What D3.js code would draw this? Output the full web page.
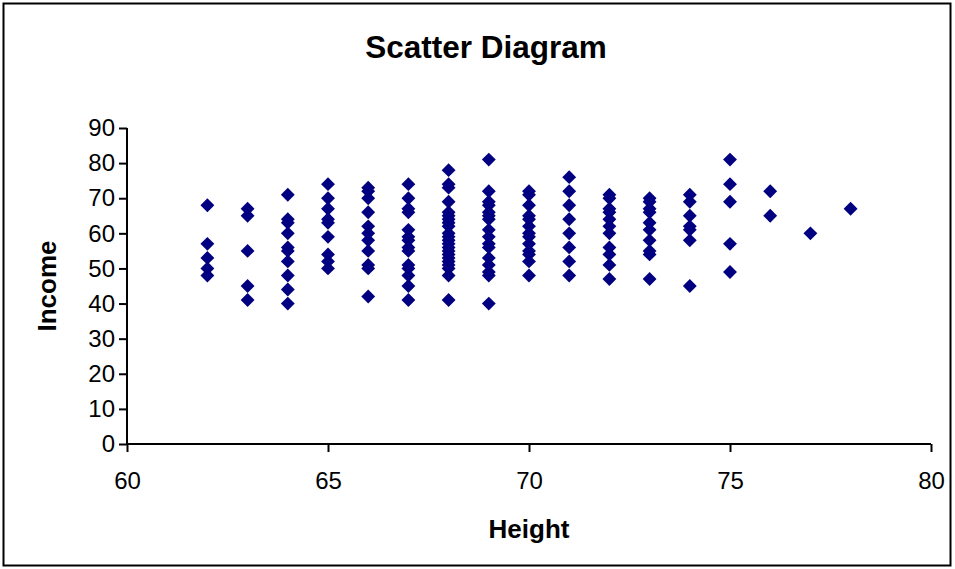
<!DOCTYPE html>
<html>
<head>
<meta charset="utf-8">
<script src="https://cdn.jsdelivr.net/npm/d3@7"></script>
<style>
    body { margin: 0; background: #fff; }
    text { font-family: "Liberation Sans", Arial, sans-serif; fill: #000; }
</style>
</head>
<body>
<svg width="955" height="569"></svg>
<script>
// heights and the incomes
var heights = [62, 63, 64, 65, 66, 67, 68, 69, 70, 71, 72, 73, 74, 75, 76, 77, 78];
var incomes = [
    [68, 57, 53, 50, 48],
    [67, 65, 55, 45, 41],
    [71, 64, 63, 60, 56, 55, 52, 48, 44, 40],
    [74, 70, 67, 64, 63, 59, 54, 52, 50],
    [73, 72, 70, 66, 62, 60, 58, 55, 51, 50, 42],
    [74, 70, 67, 66, 61, 59, 58, 56, 55, 51, 50, 48, 45, 41],
    [78, 74, 73, 69, 66, 65, 64, 63, 62, 60, 59, 58, 57, 56, 55, 54, 53, 52, 51, 50, 48, 41],
    [81, 72, 69, 68, 66, 65, 64, 61, 59, 57, 56, 53, 51, 49, 48, 40],
    [72, 71, 68, 65, 64, 62, 60, 59, 57, 55, 54, 52, 48],
    [76, 72, 68, 64, 60, 56, 52, 48],
    [71, 70, 67, 66, 64, 62, 60, 56, 54, 51, 47],
    [70, 69, 67, 66, 63, 61, 58, 55, 54, 47],
    [71, 69, 65, 62, 61, 58, 45],
    [81, 74, 69, 57, 49],
    [72, 65],
    [60],
    [67]
];
var xTicks = [60, 65, 70, 75, 80];
var yTicks = [0, 10, 20, 30, 40, 50, 60, 70, 80, 90];

var points = [];
heights.forEach(function(h, i) {
    incomes[i].forEach(function(v) { points.push({x: h, y: v}); });
});

var svg = d3.select("svg");

// outer chart border
svg.append("rect")
    .attr("x", 3.5).attr("y", 3.5)
    .attr("width", 947).attr("height", 562)
    .attr("fill", "none")
    .attr("stroke", "#000")
    .attr("stroke-width", 2);

var scX = d3.scaleLinear().domain([60, 80]).range([127, 931]);
var scY = d3.scaleLinear().domain([0, 90]).range([444, 128]);

// axes
var gx = svg.append("g")
    .attr("transform", "translate(0,444)")
    .call(d3.axisBottom(scX).tickValues(xTicks).tickSize(8).tickPadding(20));
var gy = svg.append("g")
    .attr("transform", "translate(127,0)")
    .call(d3.axisLeft(scY).tickValues(yTicks).tickSize(8).tickPadding(4));

[gx, gy].forEach(function(g) {
    g.select(".domain").attr("stroke", "#000").attr("stroke-width", 2);
    g.selectAll(".tick line").attr("stroke", "#000").attr("stroke-width", 2);
    g.selectAll(".tick text")
        .attr("font-family", "Liberation Sans, Arial, sans-serif")
        .attr("font-size", 24)
        .attr("fill", "#000");
});
gx.select(".domain").attr("d", "M127,0H931");
gy.select(".domain").attr("d", "M0,444V128");

// markers
var diamond = d3.symbol().type(d3.symbolSquare).size(96);
svg.append("g")
    .selectAll("path")
    .data(points)
    .enter()
    .append("path")
    .attr("d", diamond)
    .attr("fill", "#000080")
    .attr("transform", d => `translate(${scX(d.x)},${scY(d.y)}) rotate(45)`);

// titles
svg.append("text")
    .attr("x", 486).attr("y", 58)
    .attr("text-anchor", "middle")
    .attr("font-size", 31.5)
    .attr("font-weight", "bold")
    .text("Scatter Diagram");

svg.append("text")
    .attr("x", 529).attr("y", 538)
    .attr("text-anchor", "middle")
    .attr("font-size", 26)
    .attr("font-weight", "bold")
    .text("Height");

svg.append("text")
    .attr("transform", "translate(56,286) rotate(-90)")
    .attr("text-anchor", "middle")
    .attr("font-size", 26)
    .attr("font-weight", "bold")
    .text("Income");
</script>
</body>
</html>
